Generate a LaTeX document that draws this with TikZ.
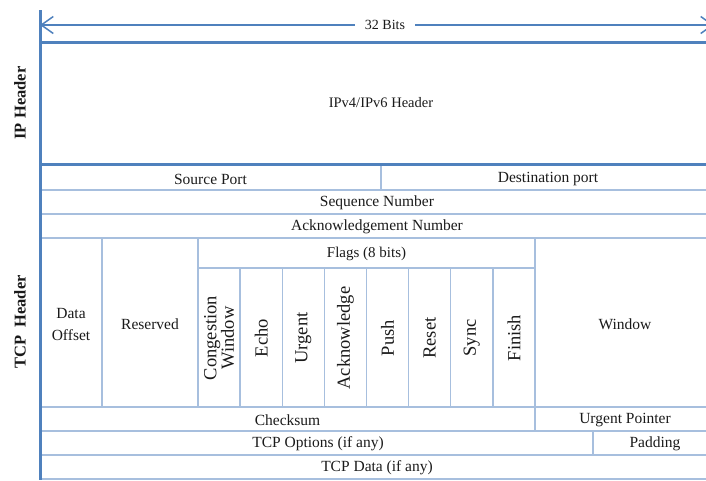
\documentclass[tikz,border=0pt]{standalone}
\usepackage{fontspec}
\setmainfont{Liberation Serif}
\usetikzlibrary{arrows.meta}
\definecolor{frameblue}{HTML}{4F81BD}
\definecolor{gridblue}{HTML}{A7BFDE}
\definecolor{inkgray}{HTML}{1A1A1A}
\begin{document}
\begin{tikzpicture}[x=1pt,y=-1pt,
  frame/.style={draw=frameblue, line width=3pt},
  grid/.style={draw=gridblue, line width=1.3pt},
  dim/.style={draw=frameblue, line width=1.5pt,
    arrows={Straight Barb[length=12pt,width=17pt]-Straight Barb[length=12pt,width=17pt]}},
  cell/.style={inner sep=0pt, text=inkgray, align=center,
    font=\fontsize{15.5}{22}\selectfont},
  flag/.style={cell, rotate=90, font=\fontsize{18.5}{17.5}\selectfont},
  side/.style={inner sep=0pt, rotate=90, text=inkgray,
    font=\fontsize{16.5}{18}\selectfont\bfseries}]
\useasboundingbox (0,0) rectangle (706,480);
\clip (0,0) rectangle (706,480);
% right edge of the table lies just past the page
\def\R{716}

% ---- thin grid lines of the TCP header ----
\foreach \y in {190,214,238,407,431,455,479}
  \draw[grid] (40,\y) -- (\R,\y);
\draw[grid] (198,268) -- (535,268);
\draw[grid] (381,164) -- (381,190);
\draw[grid] (102,238) -- (102,407);
\draw[grid] (198,238) -- (198,407);
\foreach \k in {1,...,7}
  \draw[grid] ({198+\k*42.125},268) -- ({198+\k*42.125},407);
\draw[grid] (535,238) -- (535,431);
\draw[grid] (593,431) -- (593,455);

% ---- thick frame ----
\draw[frame] (40,42) -- (\R,42);
\draw[frame] (40,164) -- (\R,164);
\draw[frame] (40,10) -- (40,480);

% ---- width dimension ----
\coordinate (wl) at (40,25);
\coordinate (wr) at (714,25);
\draw[dim] (wl) -- (wr);
\node[cell, fill=white, inner xsep=10pt, inner ysep=2pt,
  font=\fontsize{14}{16}\selectfont] (bits) at (385,25) {32 Bits};

% ---- side labels ----
\node[side] (iplabel) at (20,103) {IP Header};
\node[side] (tcplabel) at (20,322) {TCP\hspace{4pt} Header};

% ---- IP header ----
\node[cell, font=\fontsize{14.5}{16}\selectfont] (ip) at (381,103) {IPv4/IPv6 Header};

% ---- TCP header fields ----
\node[cell] (srcport) at (210.5,179) {Source Port};
\node[cell] (dstport) at (548,179) {Destination port};
\node[cell] (seq) at (377,203) {Sequence Number};
\node[cell] (ack) at (377,227) {Acknowledgement Number};
\node[cell, font=\fontsize{15}{17}\selectfont] (flags) at (366.5,254) {Flags (8 bits)};
\node[cell] (offset) at (71,324) {Data\\Offset};
\node[cell] (reserved) at (150,324) {Reserved};
\node[cell] (window) at (625,324) {Window};

\node[flag] (cwr) at (219.06,338) {Congestion\\Window};
\node[flag] (ece) at (261.19,338) {Echo};
\node[flag] (urg) at (303.31,338) {Urgent};
\node[flag] (ackf) at (345.44,338) {Acknowledge};
\node[flag] (psh) at (387.56,338) {Push};
\node[flag] (rst) at (429.69,338) {Reset};
\node[flag] (syn) at (471.81,338) {Sync};
\node[flag] (fin) at (513.94,338) {Finish};

\node[cell] (checksum) at (287.5,420) {Checksum};
\node[cell] (urgptr) at (625,420) {Urgent Pointer};
\node[cell] (options) at (318,444) {TCP Options (if any)};
\node[cell] (padding) at (655,444) {Padding};
\node[cell] (data) at (377,468) {TCP Data (if any)};
\end{tikzpicture}
\end{document}
